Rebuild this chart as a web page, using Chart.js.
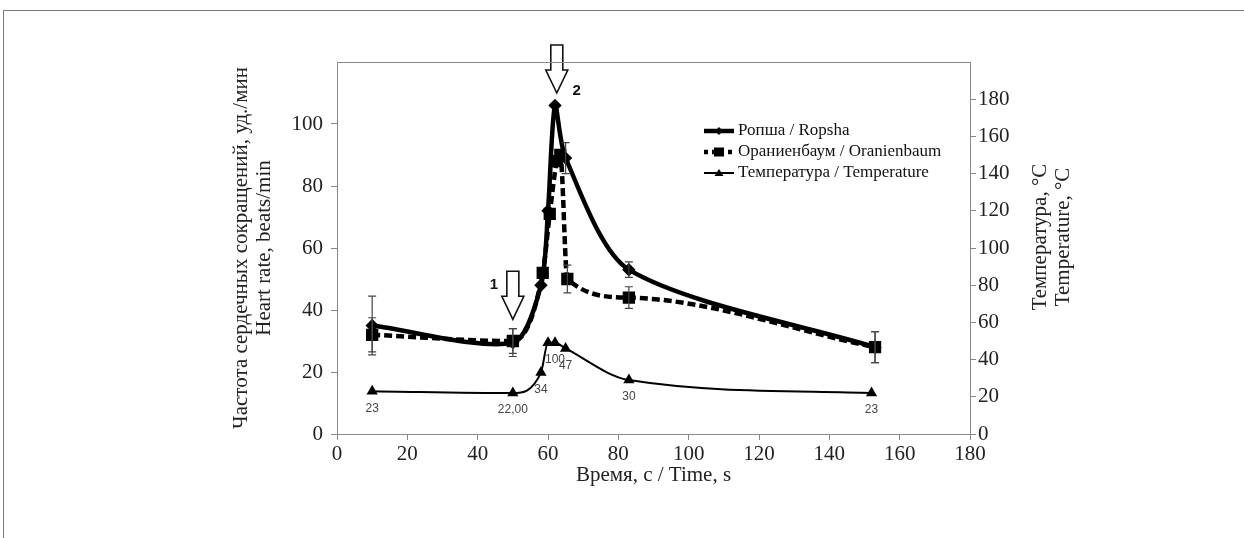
<!DOCTYPE html>
<html><head><meta charset="utf-8">
<script src="https://cdn.jsdelivr.net/npm/chart.js@4"></script>
<style>
html,body{margin:0;padding:0;background:#fff;}
#wrap{position:relative;width:1244px;height:538px;overflow:hidden;}
#frame{position:absolute;left:3px;top:10px;width:1300px;height:600px;border-top:1.5px solid #7a7a7a;border-left:1.5px solid #7a7a7a;}
canvas{position:absolute;left:0;top:0;}
</style></head><body>
<div id="wrap"><div id="frame"></div><canvas id="c" width="1244" height="538"></canvas></div>
<script>
// ---- data ----
const timeRopsha = [10, 50, 58, 60, 62, 65, 83, 153];
const hrRopsha   = [35, 29.5, 48, 72, 106, 89, 53, 28];
const errRopsha  = [9.5, 4.5, 0, 0, 0, 5, 2.5, 5];

const timeOran = [10, 50, 58.5, 60.5, 62.5, 63.5, 65.5, 83, 153];
const hrOran   = [32, 30, 52, 71, 88, 90, 50, 44, 28];
const errOran  = [5.5, 4, 0, 0, 0, 0, 4.5, 3.5, 5];

const timeTemp   = [10, 50, 58, 60, 62, 65, 83, 152];
const tempVals   = [23, 22, 33, 49, 49, 46, 29, 22];
const tempLabels = ['23', '22,00', '34', '', '100', '47', '30', '23'];

const arrowTimes  = [50, 62.5];
const arrowTips   = [37, 110];
const arrowLabels = ['1', '2'];

const seriesNames = ['Ропша / Ropsha', 'Ораниенбаум / Oranienbaum', 'Температура / Temperature'];
const yTitle = ['Частота сердечных сокращений, уд./мин', 'Heart rate, beats/min'];
const y2Title = ['Температура, °C', 'Temperature, °C'];
const xTitle = 'Время, c / Time, s';

const SERIF = "'Liberation Serif', 'Times New Roman', serif";
const SANS = "'Liberation Sans', Arial, sans-serif";

function pts(xs, ys) { return xs.map((x, i) => ({ x: x, y: ys[i] })); }

const ropshaPts = pts(timeRopsha, hrRopsha);
const oranPts = pts(timeOran, hrOran);
const tempPts = pts(timeTemp, tempVals);

const errorBars = {
  id: 'errorBars',
  afterDatasetsDraw(chart) {
    const ctx = chart.ctx;
    const sets = [[ropshaPts, errRopsha], [oranPts, errOran]];
    const xs = chart.scales.x, ys = chart.scales.y;
    ctx.save();
    ctx.strokeStyle = '#444';
    ctx.lineWidth = 1.2;
    sets.forEach(([data, err]) => {
      data.forEach((d, i) => {
        if (!err[i]) return;
        const px = xs.getPixelForValue(d.x);
        const y1 = ys.getPixelForValue(d.y + err[i]);
        const y2 = ys.getPixelForValue(d.y - err[i]);
        ctx.beginPath();
        ctx.moveTo(px, y1); ctx.lineTo(px, y2);
        ctx.moveTo(px - 4, y1); ctx.lineTo(px + 4, y1);
        ctx.moveTo(px - 4, y2); ctx.lineTo(px + 4, y2);
        ctx.stroke();
      });
    });
    ctx.restore();
  }
};

const tempLabelPlugin = {
  id: 'tempLabels',
  afterDatasetsDraw(chart) {
    const ctx = chart.ctx;
    const meta = chart.getDatasetMeta(2);
    ctx.save();
    ctx.font = '12px ' + SANS;
    ctx.fillStyle = '#444';
    ctx.textAlign = 'center';
    ctx.textBaseline = 'middle';
    meta.data.forEach((p, i) => {
      if (tempLabels[i]) ctx.fillText(tempLabels[i], p.x, p.y + 17);
    });
    ctx.restore();
  }
};

const arrowPlugin = {
  id: 'arrows',
  afterDatasetsDraw(chart) {
    const ctx = chart.ctx;
    const xs = chart.scales.x, ys = chart.scales.y;
    ctx.save();
    arrowTimes.forEach((t, i) => {
      const tx = xs.getPixelForValue(t);
      const ty = ys.getPixelForValue(arrowTips[i]);
      const sw = 6, hw = 11, hl = 23, sl = 25;
      ctx.beginPath();
      ctx.moveTo(tx, ty);
      ctx.lineTo(tx - hw, ty - hl);
      ctx.lineTo(tx - sw, ty - hl);
      ctx.lineTo(tx - sw, ty - hl - sl);
      ctx.lineTo(tx + sw, ty - hl - sl);
      ctx.lineTo(tx + sw, ty - hl);
      ctx.lineTo(tx + hw, ty - hl);
      ctx.closePath();
      ctx.fillStyle = '#fff';
      ctx.fill();
      ctx.strokeStyle = '#111';
      ctx.lineWidth = 1.6;
      ctx.stroke();
      ctx.fillStyle = '#111';
      ctx.font = 'bold 15px ' + SANS;
      ctx.textAlign = 'center';
      ctx.textBaseline = 'middle';
      if (i === 0) ctx.fillText(arrowLabels[i], tx - 19, ty - 34);
      else ctx.fillText(arrowLabels[i], tx + 20, ty - 2);
    });
    ctx.restore();
  }
};

const framePlugin = {
  id: 'frame',
  afterDraw(chart) {
    const ctx = chart.ctx, a = chart.chartArea;
    ctx.save();
    ctx.strokeStyle = '#8a8a8a';
    ctx.lineWidth = 1;
    ctx.strokeRect(a.left + 0.5, a.top + 0.5, a.right - a.left, a.bottom - a.top);
    ctx.fillStyle = '#222';
    ctx.font = '21px ' + SERIF;
    ctx.textAlign = 'center';
    ctx.textBaseline = 'middle';
    const cy = (a.top + a.bottom) / 2 - 11;
    [1040, 1063].forEach((x, i) => {
      ctx.save();
      ctx.translate(x, cy);
      ctx.rotate(-Math.PI / 2);
      ctx.fillText(y2Title[i], 0, 0);
      ctx.restore();
    });
    ctx.restore();
  }
};

const legendPlugin = {
  id: 'customLegend',
  afterDraw(chart) {
    const ctx = chart.ctx;
    ctx.save();
    const x0 = 704, x1 = 734, tx = 738;
    const rows = [131, 152, 173];
    ctx.font = '17px ' + SERIF;
    ctx.textBaseline = 'middle';
    ctx.fillStyle = '#111';
    ctx.strokeStyle = '#000';
    ctx.lineCap = 'butt';
    ctx.lineWidth = 4.5; ctx.setLineDash([]);
    ctx.beginPath(); ctx.moveTo(x0, rows[0]); ctx.lineTo(x1, rows[0]); ctx.stroke();
    ctx.beginPath(); const cx = (x0 + x1) / 2;
    ctx.moveTo(cx, rows[0] - 4); ctx.lineTo(cx + 4, rows[0]); ctx.lineTo(cx, rows[0] + 4); ctx.lineTo(cx - 4, rows[0]); ctx.closePath(); ctx.fillStyle = '#000'; ctx.fill();
    ctx.lineWidth = 4.5; ctx.setLineDash([4, 4]);
    ctx.beginPath(); ctx.moveTo(x0, rows[1]); ctx.lineTo(x1, rows[1]); ctx.stroke();
    ctx.setLineDash([]);
    ctx.fillRect(cx - 5, rows[1] - 4.5, 10, 9);
    ctx.lineWidth = 2;
    ctx.beginPath(); ctx.moveTo(x0, rows[2]); ctx.lineTo(x1, rows[2]); ctx.stroke();
    ctx.beginPath(); ctx.moveTo(cx, rows[2] - 4); ctx.lineTo(cx + 4.5, rows[2] + 3); ctx.lineTo(cx - 4.5, rows[2] + 3); ctx.closePath(); ctx.fill();
    ctx.fillStyle = '#111';
    seriesNames.forEach((n, i) => ctx.fillText(n, tx, rows[i]));
    ctx.restore();
  }
};

const tickFont = { family: SERIF, size: 21 };
const gridCfg = { drawOnChartArea: false, drawTicks: true, tickLength: 6, color: '#888' };

new Chart(document.getElementById('c'), {
  type: 'line',
  data: {
    datasets: [
      { label: seriesNames[0], data: ropshaPts, yAxisID: 'y',
        borderColor: '#000', backgroundColor: '#000', borderWidth: 4.5,
        pointStyle: 'rectRot', pointRadius: 3.5, tension: 0.27 },
      { label: seriesNames[1], data: oranPts, yAxisID: 'y',
        borderColor: '#000', backgroundColor: '#000', borderWidth: 4.5, borderDash: [8, 4],
        pointStyle: 'rect', pointRadius: 5.5, cubicInterpolationMode: 'monotone' },
      { label: seriesNames[2], data: tempPts, yAxisID: 'y2',
        borderColor: '#000', backgroundColor: '#000', borderWidth: 2,
        pointStyle: 'triangle', pointRadius: 4.5, cubicInterpolationMode: 'monotone' }
    ]
  },
  options: {
    responsive: false, animation: false,
    layout: { padding: { left: 226, right: 194, top: 62, bottom: 40 } },
    plugins: { legend: { display: false }, tooltip: { enabled: false } },
    scales: {
      x: { type: 'linear', min: 0, max: 180,
        ticks: { stepSize: 20, font: tickFont, color: '#222', padding: 2, maxRotation: 0 },
        grid: gridCfg, border: { color: '#888' },
        title: { display: true, text: xTitle, font: { family: SERIF, size: 21 }, color: '#222', padding: { top: 0, bottom: 10 } },
        afterFit(s) { s.height = 64; } },
      y: { position: 'left', min: 0, max: 120,
        ticks: { stepSize: 20, font: tickFont, color: '#222', padding: 8 },
        afterBuildTicks(s) { s.ticks = s.ticks.filter(t => t.value <= 100); },
        grid: gridCfg, border: { color: '#888' },
        title: { display: true, text: yTitle, font: { family: SERIF, size: 21, lineHeight: 1.1 }, color: '#222', padding: { top: 3.5, bottom: 0 } },
        afterFit(s) { s.width = 111; } },
      y2: { position: 'right', min: 0, max: 200,
        ticks: { stepSize: 20, font: tickFont, color: '#222', padding: 2 },
        afterBuildTicks(s) { s.ticks = s.ticks.filter(t => t.value <= 180); },
        grid: gridCfg, border: { color: '#888' },
        afterFit(s) { s.width = 80; } }
    }
  },
  plugins: [errorBars, tempLabelPlugin, arrowPlugin, framePlugin, legendPlugin]
});
</script>
</body></html>
